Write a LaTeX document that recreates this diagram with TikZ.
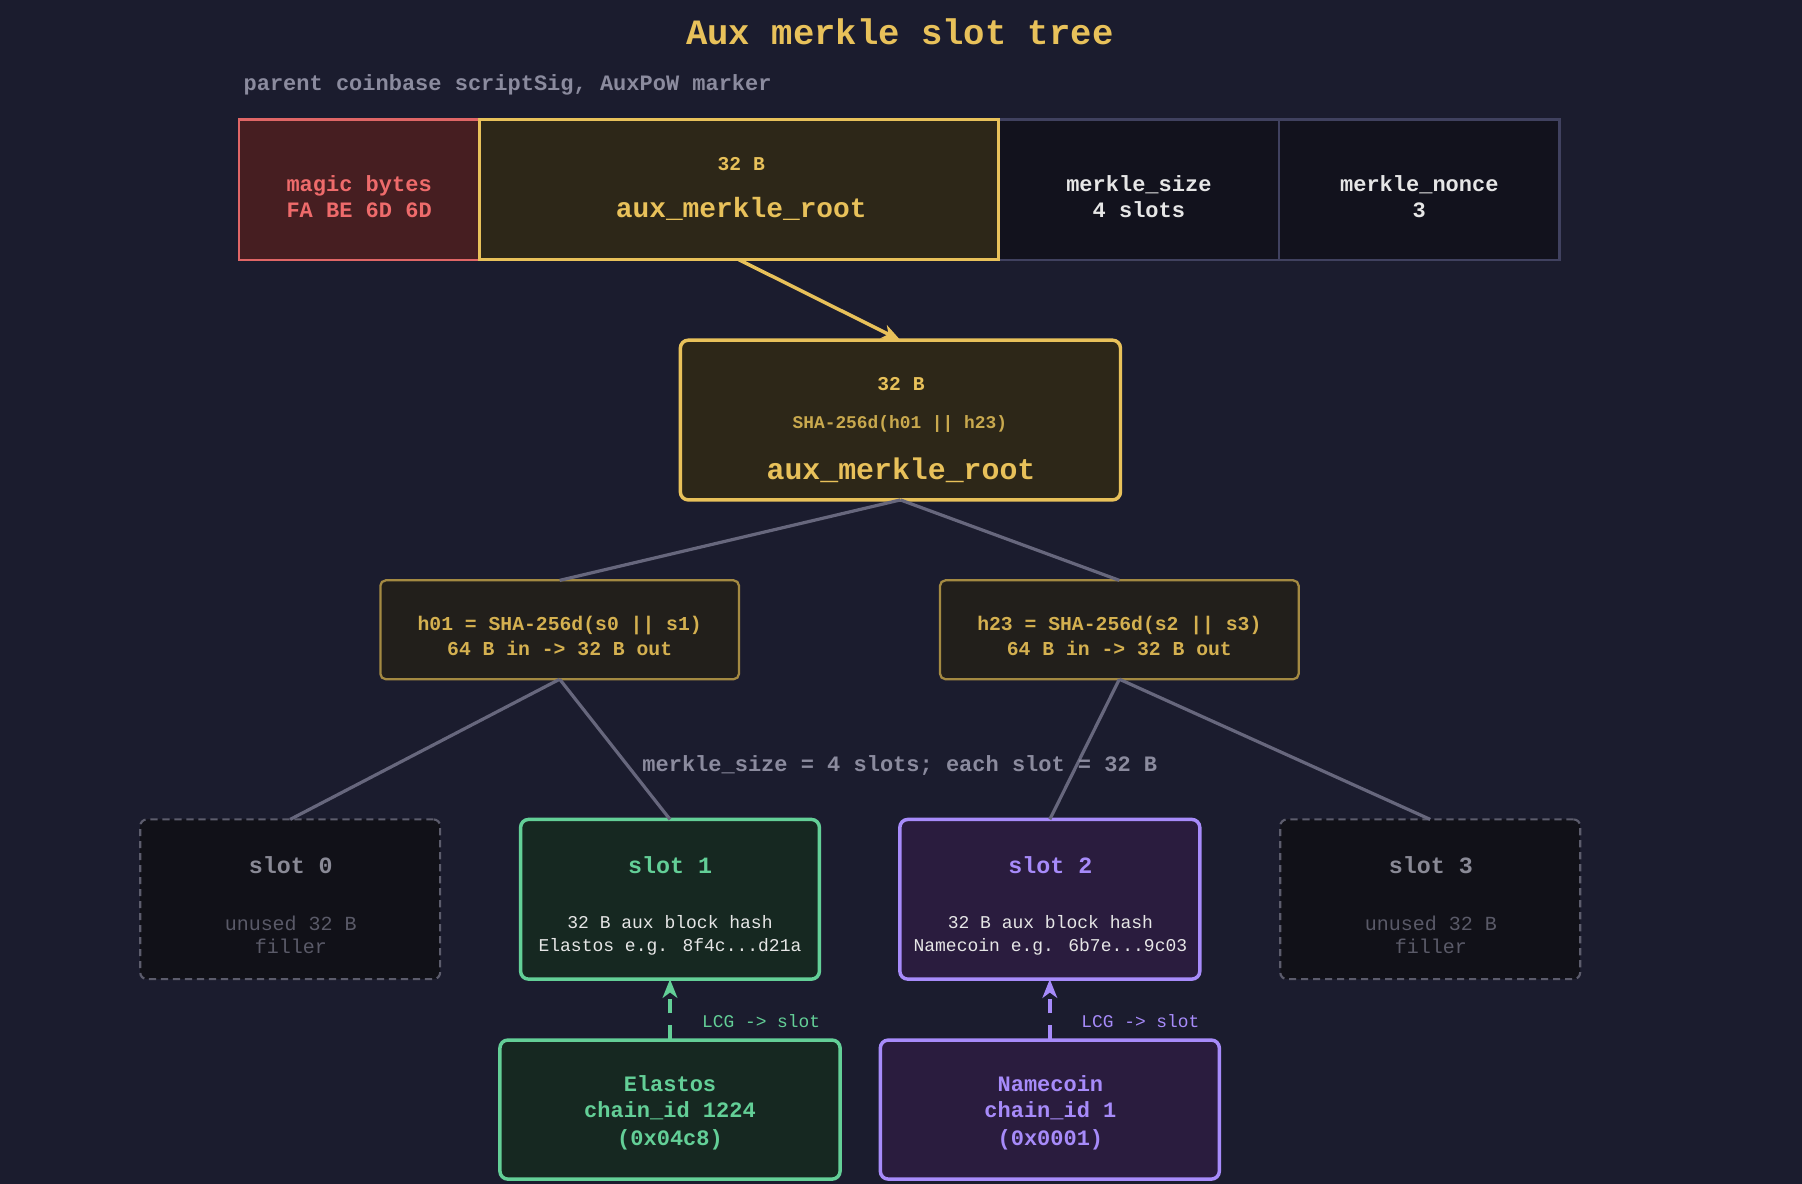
\documentclass[tikz,border=0pt]{standalone}
\usepackage{fontspec}
\setmainfont{Liberation Mono}
\usetikzlibrary{arrows.meta}
\newlength\uu \setlength\uu{0.862pt}
\definecolor{bg}{HTML}{1B1C2E}
\definecolor{gold}{HTML}{E8C15A}
\definecolor{goldF}{HTML}{2D2718}
\definecolor{goldD}{HTML}{C9A94E}
\definecolor{hS}{HTML}{A48A42}
\definecolor{hF}{HTML}{221F1B}
\definecolor{hT}{HTML}{D4B050}
\definecolor{redS}{HTML}{E06666}
\definecolor{redF}{HTML}{461E21}
\definecolor{redT}{HTML}{EE6B6B}
\definecolor{darkF}{HTML}{12121D}
\definecolor{darkS}{HTML}{40415F}
\definecolor{subT}{HTML}{8B8B9E}
\definecolor{lineC}{HTML}{67677D}
\definecolor{slotF}{HTML}{111118}
\definecolor{slotS}{HTML}{5C5C6C}
\definecolor{slotT}{HTML}{8A8A96}
\definecolor{slotD}{HTML}{5A5A68}
\definecolor{grn}{HTML}{63CF97}
\definecolor{grnF}{HTML}{162821}
\definecolor{pur}{HTML}{A78BFA}
\definecolor{purF}{HTML}{2A1C3E}
\definecolor{bodyT}{HTML}{E6E6E6}
\newcommand\ftitle{\bfseries\fontsize{26.7pt}{32pt}\selectfont}
\newcommand\fsub{\bfseries\fontsize{16.5pt}{20pt}\selectfont}
\newcommand\fsmall{\bfseries\fontsize{14.7pt}{18pt}\selectfont}
\newcommand\fbig{\bfseries\fontsize{20.9pt}{25pt}\selectfont}
\newcommand\fbigger{\bfseries\fontsize{22.4pt}{27pt}\selectfont}
\newcommand\fsha{\bfseries\fontsize{13.4pt}{16pt}\selectfont}
\newcommand\fh{\bfseries\fontsize{14.8pt}{18pt}\selectfont}
\newcommand\fslot{\bfseries\fontsize{17.5pt}{21pt}\selectfont}
\newcommand\funused{\fontsize{15pt}{18pt}\selectfont}
\newcommand\fbody{\fontsize{13.5pt}{16pt}\selectfont}
\newcommand\flcg{\fontsize{13.4pt}{16pt}\selectfont}
\begin{document}
\begin{tikzpicture}[x=0.862pt,y=-0.862pt,
  bx/.style 2 args={inner sep=0pt, outer sep=0pt, minimum width=#1*\uu, minimum height=#2*\uu},
  txt/.style={inner sep=0pt, outer sep=0pt, anchor=base},
  tree/.style={draw=lineC, line width=2.4pt},
  slotdash/.style={draw=slotS, fill=slotF, line width=1.6pt, dash pattern=on 5.4pt off 3.6pt, rounded corners=5pt},
  tip/.style={-{Stealth[length=14pt,width=11pt,inset=4pt]}},
]
\fill[bg] (0,0) rectangle (1568,1030);
\useasboundingbox (0,0) rectangle (1568,1030);

% title
\node[txt, font=\ftitle, text=gold] (title) at (783,39) {Aux merkle slot tree};
\node[txt, font=\fsub, text=subT, anchor=base west] (sub) at (212,79) {parent coinbase scriptSig, AuxPoW marker};

% top row
\node[bx={209}{122}, draw=redS, fill=redF, line width=1.7pt] (magic) at (312.5,165) {};
\node[bx={244}{122}, draw=darkS, fill=darkF, line width=1.7pt] (msize) at (991,165) {};
\node[bx={244}{122}, draw=darkS, fill=darkF, line width=1.7pt] (mnonce) at (1235,165) {};
\node[bx={452}{122}, draw=gold, fill=goldF, line width=2.6pt] (auxtop) at (643,165) {};
\node[txt, font=\fsub, text=redT] (m1) at (312.5,166.5) {magic bytes};
\node[txt, font=\fsub, text=redT] (m2) at (312.5,189.5) {FA BE 6D 6D};
\node[txt, font=\fsmall, text=gold] (a1) at (645,148) {32 B};
\node[txt, font=\fbig, text=gold] (a2) at (645,189) {aux\_merkle\_root};
\node[txt, font=\fsub, text=bodyT] (s1) at (991,166.5) {merkle\_size};
\node[txt, font=\fsub, text=bodyT] (s2) at (991,189.5) {4 slots};
\node[txt, font=\fsub, text=bodyT] (n1) at (1235,166.5) {merkle\_nonce};
\node[txt, font=\fsub, text=bodyT] (n2) at (1235,189.5) {3};

% root
\node[bx={383}{139}, draw=gold, fill=goldF, line width=2.6pt, rounded corners=6pt] (root) at (783.5,365.5) {};
\node[txt, font=\fsmall, text=gold] (r1) at (784,340) {32 B};
\node[txt, font=\fsha, text=goldD] (r2) at (783,372.5) {SHA-256d(h01 || h23)};
\node[txt, font=\fbigger, text=gold] (r3) at (784,417) {aux\_merkle\_root};
\draw[gold, line width=2.6pt, tip] (auxtop.south) -- (root.north);

% level 1
\node[bx={312}{86}, draw=hS, fill=hF, line width=1.7pt, rounded corners=4pt] (h01) at (487,548) {};
\node[bx={312}{86}, draw=hS, fill=hF, line width=1.7pt, rounded corners=4pt] (h23) at (974,548) {};
\node[txt, font=\fh, text=hT] (h01a) at (487,549) {h01 = SHA-256d(s0 || s1)};
\node[txt, font=\fh, text=hT] (h01b) at (487,570) {64 B in -> 32 B out};
\node[txt, font=\fh, text=hT] (h23a) at (974,549) {h23 = SHA-256d(s2 || s3)};
\node[txt, font=\fh, text=hT] (h23b) at (974,570) {64 B in -> 32 B out};
\draw[tree] (root.south) -- (h01.north);
\draw[tree] (root.south) -- (h23.north);

% slots
\node[bx={261}{139}, slotdash] (slot0) at (252.5,782.5) {};
\node[bx={260}{139}, draw=grn, fill=grnF, line width=2.6pt, rounded corners=6pt] (slot1) at (583,782.5) {};
\node[bx={261}{139}, draw=pur, fill=purF, line width=2.6pt, rounded corners=6pt] (slot2) at (913.5,782.5) {};
\node[bx={261}{139}, slotdash] (slot3) at (1244.5,782.5) {};
\draw[tree] (h01.south) -- (slot0.north);
\draw[tree] (h01.south) -- (slot1.north);
\draw[tree] (h23.south) -- (slot2.north);
\draw[tree] (h23.south) -- (slot3.north);
\node[txt, font=\fsub, text=subT] (lbl) at (783,671.5) {merkle\_size = 4 slots; each slot = 32 B};

\node[txt, font=\fslot, text=slotT] (t0) at (253,760) {slot 0};
\node[txt, font=\funused, text=slotD] (t0a) at (253,810) {unused 32 B};
\node[txt, font=\funused, text=slotD] (t0b) at (253,830) {filler};
\node[txt, font=\fslot, text=grn] (t1) at (583,760) {slot 1};
\node[txt, font=\fbody, text=bodyT] (t1a) at (583,808) {32 B aux block hash};
\node[txt, font=\fbody, text=bodyT] (t1b) at (583,828) {Elastos e.g. 8f4c...d21a};
\node[txt, font=\fslot, text=pur] (t2) at (914,760) {slot 2};
\node[txt, font=\fbody, text=bodyT] (t2a) at (914,808) {32 B aux block hash};
\node[txt, font=\fbody, text=bodyT] (t2b) at (914,828) {Namecoin e.g. 6b7e...9c03};
\node[txt, font=\fslot, text=slotT] (t3) at (1245,760) {slot 3};
\node[txt, font=\funused, text=slotD] (t3a) at (1245,810) {unused 32 B};
\node[txt, font=\funused, text=slotD] (t3b) at (1245,830) {filler};

% chains
\node[bx={296}{121}, draw=grn, fill=grnF, line width=2.6pt, rounded corners=6pt] (elastos) at (583,965.5) {};
\node[bx={295}{121}, draw=pur, fill=purF, line width=2.6pt, rounded corners=6pt] (namecoin) at (913.5,965.5) {};
\node[txt, font=\fsub, text=grn] (e1) at (583,949.5) {Elastos};
\node[txt, font=\fsub, text=grn] (e2) at (583,972.5) {chain\_id 1224};
\node[txt, font=\fsub, text=grn] (e3) at (583,996.5) {(0x04c8)};
\node[txt, font=\fsub, text=pur] (c1) at (914,949.5) {Namecoin};
\node[txt, font=\fsub, text=pur] (c2) at (914,972.5) {chain\_id 1};
\node[txt, font=\fsub, text=pur] (c3) at (914,996.5) {(0x0001)};

\draw[grn, line width=2.6pt, dash pattern=on 11pt off 9pt, tip] (elastos.north) -- (slot1.south);
\draw[pur, line width=2.6pt, dash pattern=on 11pt off 9pt, tip] (namecoin.north -| slot2.south) -- (slot2.south);
\node[txt, font=\flcg, text=grn, anchor=base west] (l1) at (611,894.5) {LCG -> slot};
\node[txt, font=\flcg, text=pur, anchor=base west] (l2) at (941,894.5) {LCG -> slot};
\end{tikzpicture}
\end{document}
